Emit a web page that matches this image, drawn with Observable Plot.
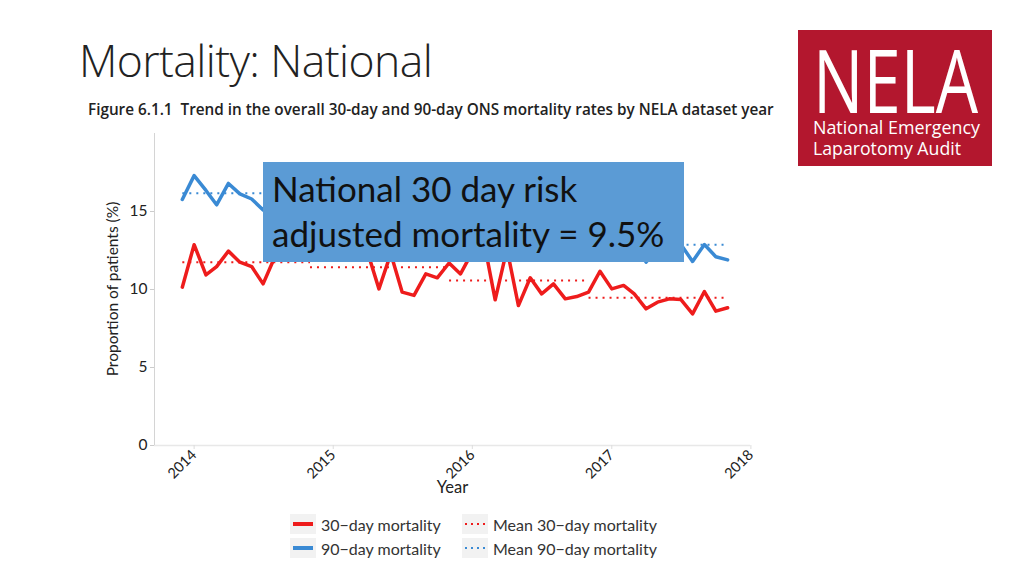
<!DOCTYPE html>
<html><head><meta charset="utf-8">
<script src="https://cdn.jsdelivr.net/npm/d3@7"></script>
<script src="https://cdn.jsdelivr.net/npm/@observablehq/plot@0.6"></script>
<style>
html,body{margin:0;padding:0}
body{width:1024px;height:576px;position:relative;background:#fff;overflow:hidden;font-family:Lato,"Open Sans",sans-serif}
#title{position:absolute;left:79px;top:29px;font-family:"Open Sans";font-weight:300;font-size:44.5px;color:#222;white-space:nowrap;letter-spacing:-0.6px}
#caption{position:absolute;left:88px;top:99px;font-family:"Open Sans";font-weight:600;font-size:15.3px;color:#222;white-space:nowrap}
#chart{position:absolute;left:0;top:125px}
#ylabel{position:absolute;left:112px;top:289px;transform:translate(-50%,-50%) rotate(-90deg);font-family:Lato;font-size:15.5px;color:#222;white-space:nowrap}
#box{position:absolute;left:263px;top:162px;width:421px;height:100px;background:#5b9bd5;color:#111;font-family:Lato;font-size:35px;line-height:45px;box-sizing:border-box;padding:4px 0 0 9px;white-space:nowrap}
#logo{position:absolute;left:798px;top:30px}
#legend{position:absolute;left:290px;top:514px;display:grid;grid-template-columns:172px 200px;row-gap:4px;font-family:Lato;font-size:16px;color:#333}
#legend .item{display:flex;align-items:center;height:20px}
#legend svg{margin-right:5px}
</style>
</head><body>
<div id="title">Mortality: National</div>
<div id="caption">Figure 6.1.1&nbsp; Trend in the overall 30-day and 90-day ONS mortality rates by NELA dataset year</div>
<div id="chart"></div>
<div id="ylabel">Proportion of patients (%)</div>
<div id="box">National 30 day risk<br>adjusted mortality = 9.5%</div>
<div id="logo"></div>
<div id="legend"></div>
<script>
// ---- data ----
const months = ["2013-12","2014-01","2014-02","2014-03","2014-04","2014-05","2014-06","2014-07","2014-08","2014-09","2014-10","2014-11",
"2014-12","2015-01","2015-02","2015-03","2015-04","2015-05","2015-06","2015-07","2015-08","2015-09","2015-10","2015-11",
"2015-12","2016-01","2016-02","2016-03","2016-04","2016-05","2016-06","2016-07","2016-08","2016-09","2016-10","2016-11",
"2016-12","2017-01","2017-02","2017-03","2017-04","2017-05","2017-06","2017-07","2017-08","2017-09","2017-10","2017-11"];
const mortality30 = [10.15,12.87,10.94,11.47,12.46,11.75,11.47,10.36,12.1,12.8,12.2,12.4,
12.5,12.0,12.8,12.2,12.4,10.04,12.3,9.83,9.62,11.0,10.75,11.7,
11.0,12.4,13.0,9.34,12.6,8.97,10.75,9.72,10.36,9.4,9.55,9.83,
11.17,10.04,10.26,9.72,8.76,9.19,9.4,9.36,8.44,9.87,8.61,8.83];
const mortality90 = [15.77,17.3,16.35,15.43,16.8,16.13,15.8,15.1,16.4,17.0,16.5,16.6,
16.6,16.0,16.9,16.3,16.5,14.2,16.2,14.0,13.7,15.1,14.8,15.6,
15.0,16.2,16.8,13.4,16.3,13.0,14.6,13.7,14.3,13.3,13.5,13.8,
14.8,13.5,13.7,13.0,11.75,12.6,12.8,12.9,11.8,12.88,12.1,11.9];
const periodStart = ["2013-12","2014-11","2015-11","2016-11"];
const periodEnd   = ["2014-11","2015-11","2016-11","2017-11"];
const mean30 = [11.75,11.43,10.58,9.47];
const mean90 = [16.17,15.5,14.4,12.87];
const yTicks = [0,5,10,15];
const xTickYears = ["2014","2015","2016","2017","2018"];
const xDomain = ["2013-09-19","2017-12-31"];

// ---- build ----
const pm = d3.utcParse("%Y-%m"), pd = d3.utcParse("%Y-%m-%d"), py = d3.utcParse("%Y");
const s30 = months.map((m,i)=>({date:pm(m), v:mortality30[i]}));
const s90 = months.map((m,i)=>({date:pm(m), v:mortality90[i]}));
const m30 = periodStart.map((s,i)=>({a:pm(s), b:pm(periodEnd[i]), v:mean30[i]}));
const m90 = periodStart.map((s,i)=>({a:pm(s), b:pm(periodEnd[i]), v:mean90[i]}));
const dom = xDomain.map(pd);
const RED = "#ee1c1c", BLUE = "#3a8ad4";

const chart = Plot.plot({
  width: 780, height: 380,
  marginLeft: 154, marginRight: 30, marginTop: 8, marginBottom: 60,
  style: {fontFamily: "Lato", fontSize: "14px", color: "#222", background: "transparent", overflow: "visible"},
  x: {type: "utc", domain: dom},
  y: {domain: [0, 20]},
  marks: [
    Plot.ruleY([0], {stroke: "#e8e8e8", strokeWidth: 1.5}),
    Plot.ruleX([dom[0]], {y1: 0, y2: 20, stroke: "#d4d4d4"}),
    Plot.axisY({ticks: yTicks, tickSize: 4, tickPadding: 3, stroke: "#cccccc", label: null, fontSize: 15.5}),
    Plot.axisX({ticks: xTickYears.map(py), tickFormat: "%Y", tickRotate: -45, tickSize: 4, tickPadding: 3, stroke: "#dddddd", label: null, fontSize: 14.5}),
    Plot.link(m90, {x1: "a", x2: "b", y1: "v", y2: "v", stroke: BLUE, strokeWidth: 2, strokeDasharray: "2,5"}),
    Plot.link(m30, {x1: "a", x2: "b", y1: "v", y2: "v", stroke: RED, strokeWidth: 2, strokeDasharray: "2,5"}),
    Plot.line(s90, {x: "date", y: "v", stroke: BLUE, strokeWidth: 3.5}),
    Plot.line(s30, {x: "date", y: "v", stroke: RED, strokeWidth: 3.5}),
    Plot.text(["Year"], {frameAnchor: "bottom", dy: 47, fontSize: 16.5, fill: "#222"})
  ]
});
document.getElementById("chart").appendChild(chart);

// ---- legend ----
const legendItems = [
  {label: "30\u2212day mortality", color: RED, dash: null},
  {label: "Mean 30\u2212day mortality", color: RED, dash: "2,4"},
  {label: "90\u2212day mortality", color: BLUE, dash: null},
  {label: "Mean 90\u2212day mortality", color: BLUE, dash: "2,4"}
];
const leg = d3.select("#legend");
legendItems.forEach(d => {
  const it = leg.append("div").attr("class","item");
  const sv = it.append("svg").attr("width",26).attr("height",20);
  sv.append("rect").attr("width",26).attr("height",20).attr("fill","#f2f2f2");
  sv.append("line").attr("x1",3).attr("x2",23).attr("y1",10).attr("y2",10)
    .attr("stroke",d.color).attr("stroke-width",d.dash?2.2:4).attr("stroke-dasharray",d.dash);
  it.append("span").text(d.label);
});

// ---- logo ----
const lg = d3.select("#logo").append("svg").attr("width",194).attr("height",136).style("overflow","visible");
lg.append("rect").attr("width",194).attr("height",136).attr("fill","#b3172e");
lg.append("text").attr("x",15).attr("y",83).attr("fill","#fff").attr("font-family","Open Sans").attr("font-size",88)
  .attr("textLength",165).attr("lengthAdjust","spacingAndGlyphs").text("NELA");
lg.append("text").attr("x",15).attr("y",104).attr("fill","#fff").attr("font-family","Open Sans").attr("font-size",17.5)
  .attr("textLength",167).attr("lengthAdjust","spacingAndGlyphs").text("National Emergency");
lg.append("text").attr("x",15).attr("y",125).attr("fill","#fff").attr("font-family","Open Sans").attr("font-size",17.5)
  .attr("textLength",148).attr("lengthAdjust","spacingAndGlyphs").text("Laparotomy Audit");
</script>
</body></html>
